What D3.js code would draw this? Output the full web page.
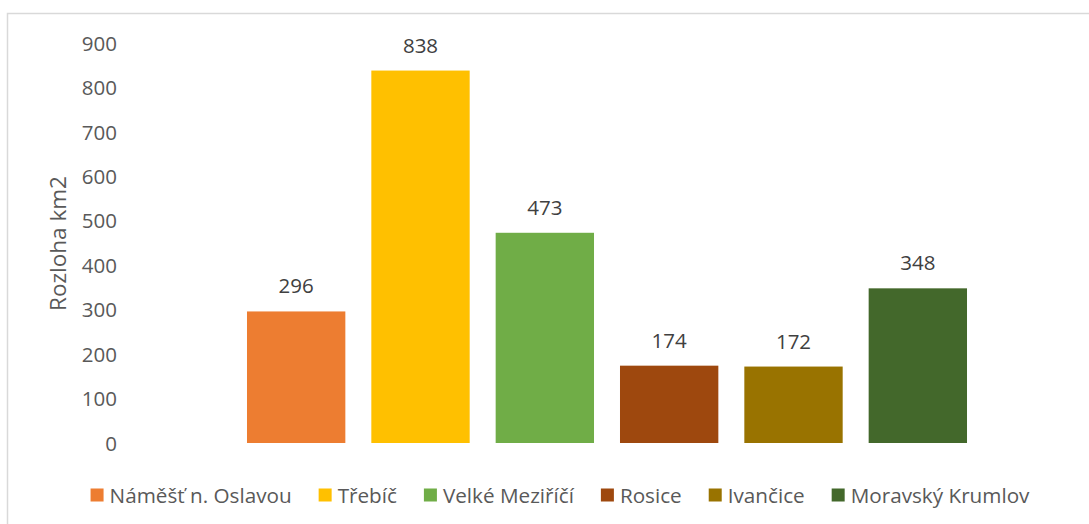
<!DOCTYPE html>
<html>
<head>
<meta charset="utf-8">
<script src="https://cdn.jsdelivr.net/npm/d3@7/dist/d3.min.js"></script>
<style>
  html, body { margin: 0; padding: 0; background: #fff; }
  svg { display: block; }
  text { font-family: "Open Sans", "Noto Sans", sans-serif; }
</style>
</head>
<body>
<svg id="chart" width="1089" height="524"></svg>
<script>
const categories = ["Náměšť n. Oslavou", "Třebíč", "Velké Meziříčí", "Rosice", "Ivančice", "Moravský Krumlov"];
const values = [296, 838, 473, 174, 172, 348];
const colors = ["#ED7D31", "#FFC000", "#70AD47", "#9E480E", "#997300", "#43682B"];
const yTicks = [0, 100, 200, 300, 400, 500, 600, 700, 800, 900];
const yTitle = "Rozloha km2";

const svg = d3.select("#chart");
const W = 1089, H = 524;

// chart border
svg.append("rect")
  .attr("x", 7.5).attr("y", 13.5)
  .attr("width", W + 20).attr("height", H + 20)
  .attr("fill", "#fff").attr("stroke", "#d9d9d9").attr("stroke-width", 1.5);

const x = d3.scaleBand().domain(categories).range([234, 980]).paddingInner(0.209).paddingOuter(0.1045);
const y = d3.scaleLinear().domain([0, 900]).range([443, 43]);

// y axis labels
const yAxis = d3.axisLeft(y).tickValues(yTicks).tickSize(0).tickPadding(0);
const gy = svg.append("g").attr("transform", "translate(117,0)").call(yAxis);
gy.select(".domain").remove();
gy.selectAll("text")
  .attr("fill", "#595959")
  .style("font-size", "20.5px")
  .style("font-family", "'Open Sans', sans-serif")
  .attr("dy", "0.35em");

// y title
svg.append("text")
  .attr("transform", "translate(57.5,243.5) rotate(-90)")
  .attr("text-anchor", "middle")
  .attr("dominant-baseline", "central")
  .attr("fill", "#595959")
  .style("font-size", "22.5px")
  .text(yTitle);

// bars
svg.append("g").selectAll("rect")
  .data(categories)
  .join("rect")
  .attr("x", (d) => x(d))
  .attr("width", x.bandwidth())
  .attr("y", (d, i) => y(values[i]))
  .attr("height", (d, i) => y(0) - y(values[i]))
  .attr("fill", (d, i) => colors[i]);

// data labels
svg.append("g").selectAll("text")
  .data(categories)
  .join("text")
  .attr("x", (d) => x(d) + x.bandwidth() / 2)
  .attr("y", (d, i) => y(values[i]) - 18)
  .attr("text-anchor", "middle")
  .attr("fill", "#404040")
  .style("font-size", "20.5px")
  .text((d, i) => values[i]);

// legend
const lg = svg.append("g");
const items = lg.selectAll("g").data(categories).join("g");
items.append("rect")
  .attr("width", 13).attr("height", 13)
  .attr("y", 488.5)
  .attr("fill", (d, i) => colors[i]);
items.append("text")
  .attr("x", 19)
  .attr("y", 495)
  .attr("dominant-baseline", "central")
  .attr("fill", "#595959")
  .style("font-size", "20.7px")
  .text((d) => d);
let cx = 0;
const offsets = [];
const gap = 27;
items.each(function () {
  const tw = d3.select(this).select("text").node().getComputedTextLength();
  offsets.push(cx);
  cx += 19 + tw + gap;
});
const total = cx - gap;
const start = 560 - total / 2;
items.attr("transform", (d, i) => `translate(${start + offsets[i]},0)`);
</script>
</body>
</html>
